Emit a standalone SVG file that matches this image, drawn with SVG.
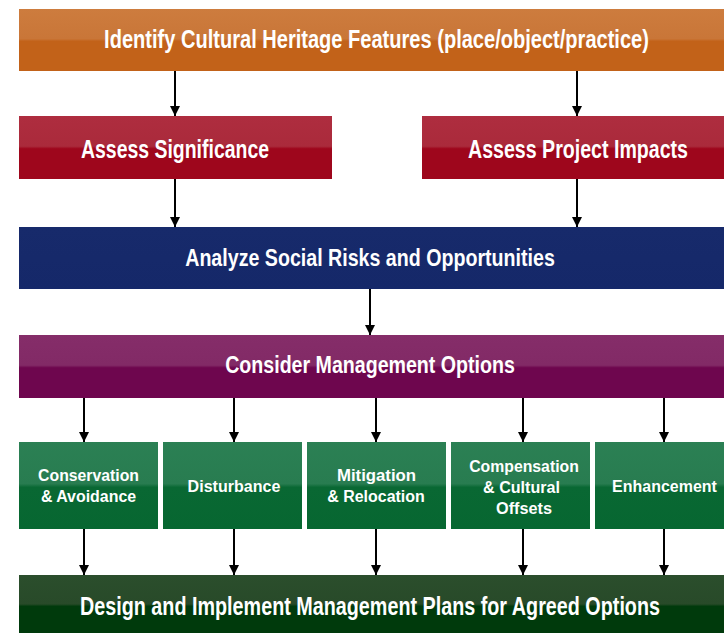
<svg xmlns="http://www.w3.org/2000/svg" width="724" height="633" viewBox="0 0 724 633">
<defs>
<linearGradient id="gOrange" x1="0" y1="0" x2="0" y2="1"><stop offset="0" stop-color="#CD7C3E"/><stop offset="0.48" stop-color="#C97638"/><stop offset="0.52" stop-color="#C26219"/><stop offset="1" stop-color="#C26219"/></linearGradient>
<linearGradient id="gRed" x1="0" y1="0" x2="0" y2="1"><stop offset="0" stop-color="#AE2D3F"/><stop offset="0.48" stop-color="#AA2A3B"/><stop offset="0.52" stop-color="#9E061C"/><stop offset="1" stop-color="#9E061C"/></linearGradient>
<linearGradient id="gBlue" x1="0" y1="0" x2="0" y2="1"><stop offset="0" stop-color="#172A6B"/><stop offset="1" stop-color="#152869"/></linearGradient>
<linearGradient id="gPurple" x1="0" y1="0" x2="0" y2="1"><stop offset="0" stop-color="#852D69"/><stop offset="0.48" stop-color="#822A66"/><stop offset="0.52" stop-color="#6E064E"/><stop offset="1" stop-color="#6E064E"/></linearGradient>
<linearGradient id="gGreen" x1="0" y1="0" x2="0" y2="1"><stop offset="0" stop-color="#2B8054"/><stop offset="0.48" stop-color="#287C50"/><stop offset="0.52" stop-color="#096833"/><stop offset="1" stop-color="#076731"/></linearGradient>
<linearGradient id="gDark" x1="0" y1="0" x2="0" y2="1"><stop offset="0" stop-color="#2B4E2C"/><stop offset="0.5" stop-color="#284A29"/><stop offset="0.54" stop-color="#003A0C"/><stop offset="1" stop-color="#003A0C"/></linearGradient>
<marker id="ah" viewBox="0 0 10 10" refX="10" refY="5" markerWidth="10" markerHeight="10" markerUnits="userSpaceOnUse" orient="auto"><path d="M0,0 L10,5 L0,10 z" fill="#000"/></marker>
</defs>
<style>
text{font-family:"Liberation Sans",Arial,sans-serif;font-weight:bold;fill:#fff;text-anchor:middle}
.big{font-size:25px}
.mid{font-size:24px}
.sm{font-size:17px}
.conn path{stroke:#000;stroke-width:2;fill:none;marker-end:url(#ah)}
</style>
<g class="conn" id="connectors">
<path d="M175,71 V116"/>
<path d="M577,71 V116"/>
<path d="M175,179 V227"/>
<path d="M577,179 V227"/>
<path d="M370,289 V335"/>
<path d="M84,398 V442"/>
<path d="M234,398 V442"/>
<path d="M376,398 V442"/>
<path d="M523,398 V442"/>
<path d="M664,398 V442"/>
<path d="M84,529 V575"/>
<path d="M234,529 V575"/>
<path d="M376,529 V575"/>
<path d="M523,529 V575"/>
<path d="M664,529 V575"/>
</g>
<g id="identify">
<rect x="19" y="9" width="705" height="62" fill="url(#gOrange)"/>
<text class="big" transform="translate(376.5,48) scale(0.8,1)" textLength="681" lengthAdjust="spacingAndGlyphs">Identify Cultural Heritage Features (place/object/practice)</text>
</g>
<g id="significance">
<rect x="19" y="116" width="313" height="63" fill="url(#gRed)"/>
<text class="big" transform="translate(175,158) scale(0.8,1)" textLength="235" lengthAdjust="spacingAndGlyphs">Assess Significance</text>
</g>
<g id="impacts">
<rect x="422" y="116" width="302" height="63" fill="url(#gRed)"/>
<text class="big" transform="translate(578,158) scale(0.8,1)" textLength="275" lengthAdjust="spacingAndGlyphs">Assess Project Impacts</text>
</g>
<g id="analyze">
<rect x="19" y="227" width="705" height="62" fill="url(#gBlue)"/>
<text class="mid" transform="translate(370,266) scale(0.8,1)" textLength="462" lengthAdjust="spacingAndGlyphs">Analyze Social Risks and Opportunities</text>
</g>
<g id="consider">
<rect x="19" y="335" width="705" height="63" fill="url(#gPurple)"/>
<text class="mid" transform="translate(370,373) scale(0.8,1)" textLength="362" lengthAdjust="spacingAndGlyphs">Consider Management Options</text>
</g>
<g id="conservation">
<rect x="19" y="442" width="139" height="87" fill="url(#gGreen)"/>
<text class="sm" transform="translate(88.5,481) scale(0.8,1)" textLength="126" lengthAdjust="spacingAndGlyphs">Conservation</text>
<text class="sm" transform="translate(88.5,502) scale(0.8,1)" textLength="119" lengthAdjust="spacingAndGlyphs">&amp; Avoidance</text>
</g>
<g id="disturbance">
<rect x="163" y="442" width="139" height="87" fill="url(#gGreen)"/>
<text class="sm" transform="translate(234,492) scale(0.8,1)" textLength="116" lengthAdjust="spacingAndGlyphs">Disturbance</text>
</g>
<g id="mitigation">
<rect x="307" y="442" width="139" height="87" fill="url(#gGreen)"/>
<text class="sm" transform="translate(376.5,481) scale(0.8,1)" textLength="99" lengthAdjust="spacingAndGlyphs">Mitigation</text>
<text class="sm" transform="translate(376,502) scale(0.8,1)" textLength="122" lengthAdjust="spacingAndGlyphs">&amp; Relocation</text>
</g>
<g id="compensation">
<rect x="451" y="442" width="139" height="87" fill="url(#gGreen)"/>
<text class="sm" transform="translate(524,472) scale(0.8,1)" textLength="137" lengthAdjust="spacingAndGlyphs">Compensation</text>
<text class="sm" transform="translate(521.5,493) scale(0.8,1)" textLength="96" lengthAdjust="spacingAndGlyphs">&amp; Cultural</text>
<text class="sm" transform="translate(524,514) scale(0.8,1)" textLength="70" lengthAdjust="spacingAndGlyphs">Offsets</text>
</g>
<g id="enhancement">
<rect x="595" y="442" width="129" height="87" fill="url(#gGreen)"/>
<text class="sm" transform="translate(664.5,492) scale(0.8,1)" textLength="131" lengthAdjust="spacingAndGlyphs">Enhancement</text>
</g>
<g id="design">
<rect x="19" y="575" width="705" height="58" fill="url(#gDark)"/>
<text class="big" transform="translate(370,615) scale(0.8,1)" textLength="725" lengthAdjust="spacingAndGlyphs">Design and Implement Management Plans for Agreed Options</text>
</g>
</svg>
